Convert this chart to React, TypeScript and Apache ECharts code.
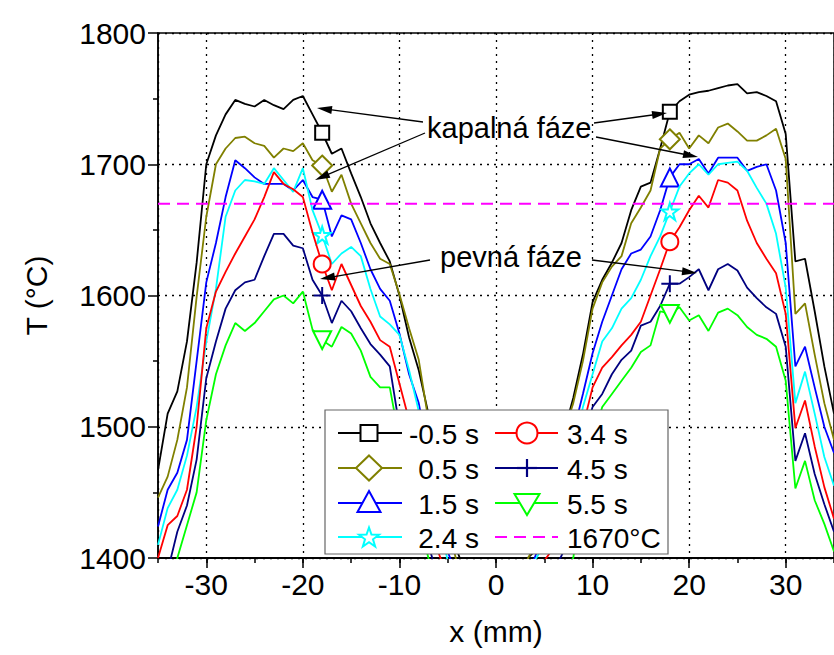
import React, { useEffect, useRef } from "react";
import * as echarts from "echarts";

// ---- data ----
const positions = [
  -35, -34, -33, -32, -31, -30, -29, -28, -27, -26, -25, -24, -23, -22, -21, -20, -19, -18, -17, -16, -15,
  -14, -13, -12, -11, -10, -9, -8, -7, -6, -5, -4, -3, -2, -1, 0, 1, 2, 3, 4, 5, 6, 7, 8, 9, 10, 11, 12, 13,
  14, 15, 16, 17, 18, 19, 20, 21, 22, 23, 24, 25, 26, 27, 28, 29, 30, 31, 32, 33, 34, 35,
];

const seriesNames = ["-0.5 s", "0.5 s", "1.5 s", "2.4 s", "3.4 s", "4.5 s", "5.5 s"];

const tMinus05 = [
  1467, 1510, 1527, 1565, 1625, 1700, 1722, 1738, 1749, 1746, 1744, 1749, 1745, 1742, 1749, 1752, 1738, 1724,
  1708, 1712, 1693, 1675, 1655, 1640, 1626, 1600, 1568, 1543, 1510, 1475, 1440, 1405, 1385, 1375, 1370, 1372,
  1380, 1390, 1398, 1405, 1432, 1462, 1495, 1522, 1555, 1595, 1612, 1625, 1640, 1665, 1683, 1686, 1712, 1740,
  1748, 1753, 1755, 1756, 1758, 1760, 1761, 1754, 1755, 1752, 1748, 1723, 1626, 1628, 1588, 1546, 1510,
];
const t05 = [
  1446, 1462, 1490, 1530, 1599, 1660, 1700, 1712, 1720, 1721, 1716, 1714, 1705, 1712, 1710, 1716, 1703, 1699,
  1679, 1692, 1670, 1655, 1640, 1628, 1624, 1601, 1575, 1551, 1505, 1465, 1425, 1395, 1378, 1368, 1365, 1366,
  1372, 1385, 1395, 1410, 1440, 1468, 1495, 1518, 1550, 1590, 1610, 1622, 1630, 1655, 1667, 1680, 1712, 1719,
  1724, 1712, 1722, 1716, 1728, 1731, 1725, 1718, 1718, 1722, 1727, 1704, 1586, 1594, 1555, 1518, 1490,
];
const t15 = [
  1424, 1452, 1465, 1490, 1550, 1610, 1640, 1675, 1703, 1697, 1690, 1685, 1685, 1685, 1680, 1688, 1675, 1673,
  1645, 1661, 1658, 1640, 1620, 1605, 1596, 1571, 1540, 1518, 1480, 1440, 1405, 1385, 1370, 1362, 1358, 1360,
  1366, 1378, 1390, 1400, 1420, 1445, 1470, 1495, 1525, 1556, 1580, 1600, 1620, 1632, 1635, 1645, 1665, 1690,
  1700, 1700, 1704, 1693, 1705, 1705, 1705, 1695, 1698, 1700, 1680, 1640, 1546, 1561, 1530, 1500, 1480,
];
const t24 = [
  1410, 1438, 1452, 1478, 1515, 1565, 1605, 1660, 1680, 1688, 1687, 1685, 1697, 1688, 1679, 1697, 1665, 1646,
  1624, 1632, 1637, 1630, 1605, 1584, 1578, 1570, 1543, 1512, 1470, 1430, 1398, 1380, 1366, 1358, 1355, 1356,
  1362, 1375, 1388, 1398, 1410, 1430, 1450, 1480, 1515, 1540, 1565, 1575, 1590, 1598, 1612, 1630, 1645, 1664,
  1683, 1693, 1700, 1692, 1700, 1701, 1702, 1695, 1682, 1670, 1647, 1606, 1518, 1542, 1510, 1477, 1455,
];
const t34 = [
  1400, 1425, 1432, 1452, 1500, 1575, 1603, 1618, 1632, 1645, 1658, 1675, 1694, 1685, 1681, 1675, 1648, 1624,
  1604, 1624, 1608, 1592, 1580, 1566, 1561, 1533, 1505, 1470, 1435, 1405, 1385, 1372, 1360, 1352, 1350, 1352,
  1358, 1368, 1380, 1390, 1398, 1408, 1425, 1460, 1500, 1530, 1545, 1553, 1562, 1570, 1580, 1600, 1620, 1641,
  1652, 1665, 1676, 1667, 1688, 1686, 1680, 1657, 1640, 1628, 1617, 1586, 1499, 1520, 1485, 1454, 1430,
];
const t45 = [
  1340, 1390, 1420, 1440, 1475, 1537, 1565, 1590, 1604, 1610, 1612, 1630, 1647, 1647, 1638, 1636, 1612, 1600,
  1579, 1596, 1588, 1575, 1563, 1555, 1546, 1500, 1470, 1440, 1410, 1385, 1370, 1360, 1350, 1343, 1340, 1342,
  1348, 1358, 1368, 1375, 1382, 1390, 1405, 1440, 1490, 1515, 1525, 1540, 1551, 1558, 1577, 1580, 1592, 1609,
  1609, 1614, 1620, 1604, 1620, 1624, 1619, 1606, 1598, 1591, 1586, 1561, 1474, 1495, 1464, 1441, 1420,
];
const t55 = [
  1300, 1350, 1400, 1425, 1450, 1505, 1540, 1562, 1579, 1573, 1579, 1588, 1597, 1600, 1594, 1603, 1574, 1566,
  1561, 1576, 1571, 1558, 1538, 1530, 1530, 1490, 1460, 1430, 1400, 1380, 1365, 1355, 1345, 1338, 1335, 1336,
  1340, 1350, 1360, 1368, 1375, 1383, 1390, 1400, 1450, 1490, 1515, 1525, 1535, 1545, 1557, 1562, 1588, 1586,
  1591, 1581, 1585, 1573, 1587, 1590, 1585, 1576, 1570, 1567, 1561, 1535, 1453, 1474, 1444, 1426, 1405,
];
const seriesValues = [tMinus05, t05, t15, t24, t34, t45, t55];

const markerPositions = [-18, 18];
const thresholdLabel = "1670°C";
const thresholdValue = 1670;
const xRange = [-35, 35];
const yRange = [1400, 1800];

// ---- styles ----
const FONT = "'Liberation Sans', Arial, sans-serif";
const colors = ["#000000", "#808000", "#0000ff", "#00ffff", "#ff0000", "#000080", "#00ff00"];
const STAR = "path://M50,0L61.2,34.5L97.6,34.5L68.2,55.9L79.4,90.5L50,69.1L20.6,90.5L31.8,55.9L2.4,34.5L38.8,34.5Z";
const PLUS = "path://M0,5L10,5M5,0L5,10";
const symbols = ["rect", "diamond", "triangle", STAR, "circle", PLUS, "triangle"];
const symbolRotates = [0, 0, 0, 0, 0, 0, 180];
const symbolSizes = [14, [20, 20], 18, 17, 17, 17, 18];

function starPoints(cx: number, cy: number, r: number) {
  const pts: number[][] = [];
  for (let i = 0; i < 10; i++) {
    const rr = i % 2 === 0 ? r : r * 0.4;
    const a = -Math.PI / 2 + (i * Math.PI) / 5;
    pts.push([cx + rr * Math.cos(a), cy + rr * Math.sin(a)]);
  }
  return pts;
}

function legendMarker(kind: number, cx: number, cy: number, color: string): any[] {
  const st = { fill: "#fff", stroke: color, lineWidth: 2 };
  switch (kind) {
    case 0:
      return [{ type: "rect", shape: { x: cx - 8.5, y: cy - 8, width: 17, height: 16 }, style: st }];
    case 1:
      return [{ type: "polygon", shape: { points: [[cx, cy - 12.5], [cx + 13, cy], [cx, cy + 12.5], [cx - 13, cy]] }, style: st }];
    case 2:
      return [{ type: "polygon", shape: { points: [[cx, cy - 12], [cx + 11.5, cy + 9], [cx - 11.5, cy + 9]] }, style: st }];
    case 3:
      return [{ type: "polygon", shape: { points: starPoints(cx, cy + 1, 10.5) }, style: st }];
    case 4:
      return [{ type: "circle", shape: { cx, cy, r: 10.5 }, style: st }];
    case 5:
      return [
        { type: "line", shape: { x1: cx - 10, y1: cy, x2: cx + 10, y2: cy }, style: { stroke: color, lineWidth: 2.2 } },
        { type: "line", shape: { x1: cx, y1: cy - 9, x2: cx, y2: cy + 9 }, style: { stroke: color, lineWidth: 2.2 } },
      ];
    default:
      return [{ type: "polygon", shape: { points: [[cx - 12.5, cy - 9], [cx + 12.5, cy - 9], [cx, cy + 12]] }, style: st }];
  }
}

function arrow(x1: number, y1: number, x2: number, y2: number): any[] {
  const dx = x2 - x1;
  const dy = y2 - y1;
  const len = Math.hypot(dx, dy);
  const ux = dx / len;
  const uy = dy / len;
  const hl = 15;
  const hw = 4;
  const bx = x2 - ux * hl;
  const by = y2 - uy * hl;
  return [
    { type: "line", shape: { x1, y1, x2: bx + ux * 2, y2: by + uy * 2 }, style: { stroke: "#000", lineWidth: 1.3 } },
    {
      type: "polygon",
      shape: { points: [[x2, y2], [bx - uy * hw, by + ux * hw], [bx + uy * hw, by - ux * hw]] },
      style: { fill: "#000" },
    },
  ];
}

export default function App() {
  const ref = useRef<HTMLDivElement>(null);

  useEffect(() => {
    if (!ref.current) return;
    const chart = echarts.init(ref.current, undefined, { renderer: "svg" });

    const lineSeries: any[] = seriesNames.map((name, k) => ({
      name,
      type: "line",
      xAxisIndex: 1,
      yAxisIndex: 0,
      silent: true,
      showSymbol: true,
      showAllSymbol: true,
      symbol: symbols[k],
      symbolRotate: symbolRotates[k],
      symbolSize: symbolSizes[k],
      itemStyle: { color: "#fff", borderColor: colors[k], borderWidth: 2 },
      lineStyle: { color: colors[k], width: 1.8 },
      emphasis: { disabled: true },
      z: 3 + k,
      data: positions.map((x, i) =>
        markerPositions.includes(x) ? [x, seriesValues[k][i]] : { value: [x, seriesValues[k][i]], symbol: "none" }
      ),
    }));

    lineSeries.push({
      name: thresholdLabel,
      type: "line",
      xAxisIndex: 1,
      yAxisIndex: 0,
      silent: true,
      symbol: "none",
      lineStyle: { color: "#ff00ff", width: 2, type: [12, 7] },
      z: 20,
      data: [
        [xRange[0], thresholdValue],
        [xRange[1], thresholdValue],
      ],
    });

    // legend (drawn)
    const rowsY = [433, 468, 503, 537];
    const legendEls: any[] = [
      { type: "rect", shape: { x: 325, y: 410, width: 343, height: 144 }, style: { fill: "#fff", stroke: "#666", lineWidth: 1.2 } },
    ];
    seriesNames.forEach((name, k) => {
      const col = k < 4 ? 0 : 1;
      const cy = rowsY[k % 4];
      const lx1 = col === 0 ? 338 : 495;
      const lx2 = col === 0 ? 402 : 558;
      const mx = col === 0 ? 369 : 527;
      legendEls.push({ type: "line", shape: { x1: lx1, y1: cy, x2: lx2, y2: cy }, style: { stroke: colors[k], lineWidth: 1.8 } });
      legendEls.push(...legendMarker(k, mx, cy, colors[k]));
      legendEls.push({
        type: "text",
        x: col === 0 ? 479 : 567,
        y: cy + 1,
        style: {
          text: name,
          fill: "#000",
          font: `28px ${FONT}`,
          align: col === 0 ? "right" : "left",
          verticalAlign: "middle",
        },
      });
    });
    legendEls.push({
      type: "line",
      shape: { x1: 495, y1: rowsY[3], x2: 558, y2: rowsY[3] },
      style: { stroke: "#ff00ff", lineWidth: 2, lineDash: [12, 7] },
    });
    legendEls.push({
      type: "text",
      x: 567,
      y: rowsY[3] + 1,
      style: { text: thresholdLabel, fill: "#000", font: `28px ${FONT}`, align: "left", verticalAlign: "middle" },
    });

    const annotationEls: any[] = [
      { type: "text", x: 427, y: 128, style: { text: "kapalná fáze", fill: "#000", font: `29px ${FONT}`, verticalAlign: "middle" } },
      { type: "text", x: 440, y: 257, style: { text: "pevná fáze", fill: "#000", font: `29px ${FONT}`, verticalAlign: "middle" } },
      ...arrow(423, 122, 317, 108),
      ...arrow(425, 133, 315, 180),
      ...arrow(594, 123, 667, 113),
      ...arrow(596, 137, 698, 157),
      ...arrow(430, 260, 320, 279),
      ...arrow(592, 260, 697, 273),
    ];

    const graphicEls = [...annotationEls, ...legendEls].map((e) => ({ ...e, z: 100, silent: true }));

    const axisLine = { show: true, onZero: false, lineStyle: { color: "#000", width: 1.5 } };
    const dotted = { show: true, lineStyle: { color: "#000", width: 1.3, type: [2, 5] } };
    const labelStyle = { color: "#000", fontSize: 30, fontFamily: FONT };
    const plain = (v: number) => String(v);

    chart.setOption({
      animation: false,
      backgroundColor: "#fff",
      grid: { left: 158, top: 33, right: -10, bottom: 97, show: true, borderColor: "#000", borderWidth: 1.5, containLabel: false },
      xAxis: [
        {
          type: "value",
          min: xRange[0],
          max: xRange[1],
          interval: 5,
          position: "bottom",
          axisLine,
          axisTick: { show: true, inside: false, length: 5, lineStyle: { color: "#000", width: 1.5 } },
          axisLabel: { show: false },
          splitLine: { show: false },
        },
        {
          type: "value",
          min: xRange[0],
          max: xRange[1],
          splitNumber: 7,
          position: "bottom",
          axisLine,
          axisTick: { show: true, inside: false, length: 10, lineStyle: { color: "#000", width: 1.5 } },
          axisLabel: { ...labelStyle, margin: 11, showMinLabel: false, showMaxLabel: false, formatter: plain },
          splitLine: dotted,
          name: "x (mm)",
          nameLocation: "middle",
          nameGap: 58,
          nameTextStyle: { ...labelStyle },
        },
      ],
      yAxis: [
        {
          type: "value",
          min: yRange[0],
          max: yRange[1],
          interval: 100,
          axisLine,
          axisTick: { show: true, inside: false, length: 10, lineStyle: { color: "#000", width: 1.5 } },
          minorTick: { show: true, splitNumber: 2, length: 5, lineStyle: { color: "#000", width: 1.5 } },
          axisLabel: { ...labelStyle, margin: 12, formatter: plain },
          splitLine: dotted,
          name: "T (°C)",
          nameLocation: "middle",
          nameGap: 107,
          nameRotate: 90,
          nameTextStyle: { ...labelStyle },
        },
      ],
      series: lineSeries,
      graphic: graphicEls,
    });

    return () => chart.dispose();
  }, []);

  return <div ref={ref} style={{ position: "absolute", left: 0, top: 0, width: 834, height: 655 }} />;
}
